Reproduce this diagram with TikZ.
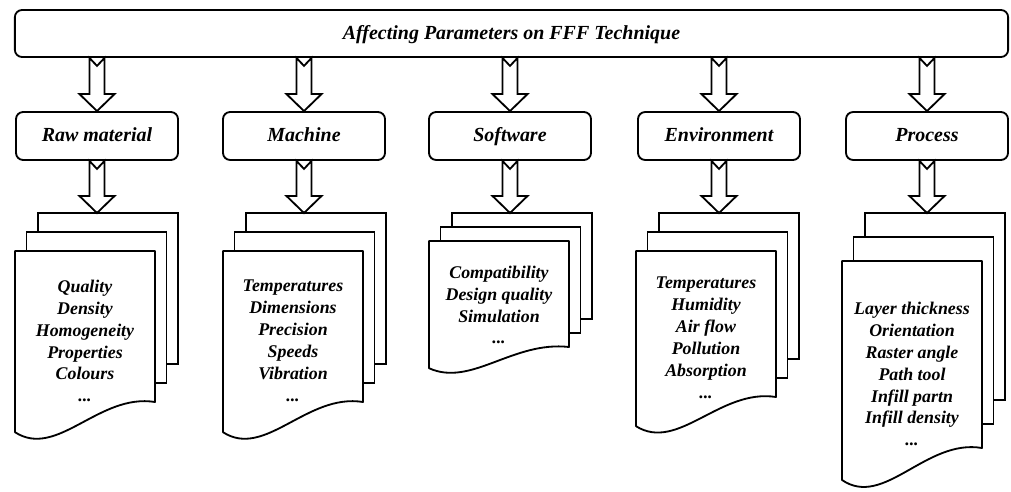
\documentclass[tikz,border=0pt]{standalone}
\usepackage{fontspec}
\setmainfont{Liberation Serif}
\usetikzlibrary{calc}

% hollow block arrow with notched tail, from the bottom of #1 down to #2
\newcommand{\fatarrow}[2]{%
 \draw[fat] let \p1=(#1), \p2=(#2) in
 (\x2-0.1875cm,\y1) -- (\x2,\y1-0.2cm) -- (\x2+0.1875cm,\y1)
 -- (\x2+0.1875cm,\y2+0.425cm) -- (\x2+0.4375cm,\y2+0.425cm) -- (\x2,\y2)
 -- (\x2-0.4375cm,\y2+0.425cm) -- (\x2-0.1875cm,\y2+0.425cm) -- cycle;}

% stack of three sheets: name, left x, top y, height, step, text y, text
\newcommand{\docstack}[7]{%
 \node[sheet,minimum height=#4*0.025cm] (#1back) at ({#2+23},{#3-2*#5}) {};
 \node[sheet,minimum height=#4*0.025cm] (#1mid) at ({#2+11.5},{#3-#5}) {};
 \draw[sheetline] (#2,#3) -- ++(140,0) -- ++(0,#4)
  .. controls +(-56,{-0.3*min(0.2*#4,32)}) and ({#2+42},{#3+#4+1.9*min(0.2*#4,32)})
  .. ({#2},{#3+#4+min(0.2*#4,32)}) -- cycle;
 \node[items] (#1list) at ({#2+70},#6) {#7};}

\begin{document}
\begin{tikzpicture}[x=0.025cm,y=-0.025cm,line width=1.3pt,
 head/.style={draw,rounded corners=0.18cm,align=center,
  text height=2.2ex,text depth=0.4ex,
  font=\bfseries\itshape\fontsize{14.2}{17}\selectfont},
 group/.style={head,minimum width=4.05cm,minimum height=1.2cm},
 sheet/.style={draw,fill=white,anchor=north west,inner sep=0pt,outer sep=0pt,
  minimum width=3.5cm},
 sheetline/.style={draw,fill=white,line join=round},
 items/.style={align=center,inner sep=0pt,
  font=\bfseries\itshape\fontsize{12.7}{15.6}\selectfont},
 fat/.style={draw,fill=white}]
\useasboundingbox (0,0) rectangle (1011,492);

\node[head,minimum width=24.825cm,minimum height=1.175cm] (top) at (511.5,33.5)
 {Affecting Parameters on FFF Technique};

\node[group] (raw) at (97,136) {Raw material};
\node[group] (machine) at (304,136) {Machine};
\node[group] (software) at (510,136) {Software};
\node[group] (environment) at (719,136) {Environment};
\node[group] (process) at (927,136) {Process};

\docstack{raw}{15}{251}{151}{19}{341}
 {Quality\\Density\\Homogeneity\\Properties\\Colours\\...}
\docstack{machine}{223}{251}{151}{19}{341}
 {Temperatures\\Dimensions\\Precision\\Speeds\\Vibration\\...}
\docstack{software}{429}{241}{106}{14}{305}
 {Compatibility\\Design quality\\Simulation\\...}
\docstack{environment}{636}{251}{146}{19}{338}
 {Temperatures\\Humidity\\Air flow\\Pollution\\Absorption\\...}
\docstack{process}{842}{261}{187}{24}{374}
 {Layer thickness\\Orientation\\Raster angle\\Path tool\\Infill partn\\Infill density\\...}

\foreach \g in {raw,machine,software,environment,process}{
 \fatarrow{top.south}{\g.north}
 \fatarrow{\g.south}{\g.south |- \g back.north}
}
\end{tikzpicture}
\end{document}
